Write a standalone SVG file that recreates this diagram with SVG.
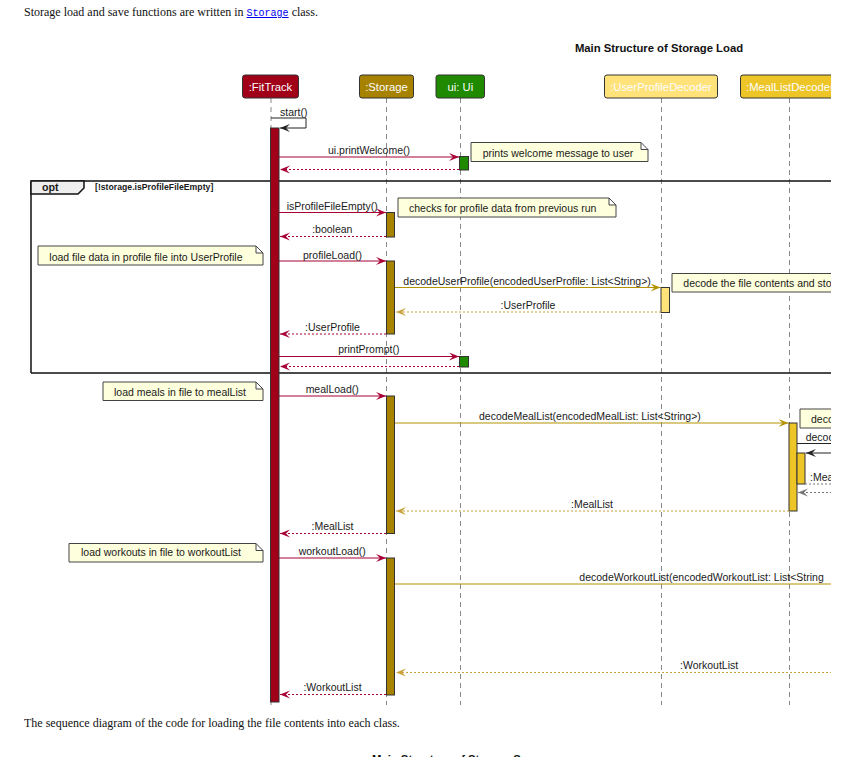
<svg xmlns="http://www.w3.org/2000/svg" width="863" height="757" viewBox="0 0 863 757">
<style>
.serif{font-family:"Liberation Serif","Times New Roman",serif;font-size:12px;fill:#111}
.link{font-family:"Liberation Mono","Courier New",monospace;font-size:10px;fill:#0000EE;text-decoration:underline}
.title{font-family:"Liberation Sans",Arial,sans-serif;font-size:11.3px;font-weight:bold;fill:#111}
.pt{font-family:"Liberation Sans",Arial,sans-serif;font-size:11.3px;fill:#FDFDFD;text-anchor:middle}
.m{font-family:"Liberation Sans",Arial,sans-serif;font-size:10.5px;fill:#1a1a1a}
.mc{font-family:"Liberation Sans",Arial,sans-serif;font-size:10.5px;fill:#1a1a1a;text-anchor:middle}
.life{stroke:#8a8a8a;stroke-width:1;stroke-dasharray:5,4;fill:none}
.box{stroke:#333;stroke-width:1}
.act{stroke:#333;stroke-width:1}
.note{fill:#FEFFDD;stroke:#444;stroke-width:1}
.red{stroke:#A80036;stroke-width:1;fill:none}
.redd{stroke:#A80036;stroke-width:1;fill:none;stroke-dasharray:2,2}
.gold{stroke:#B39200;stroke-width:1;fill:none}
.goldd{stroke:#C8A23A;stroke-width:1;fill:none;stroke-dasharray:2,2}
.blk{stroke:#222;stroke-width:1;fill:none}
.gray{stroke:#777;stroke-width:1;fill:none;stroke-dasharray:2,2}
.frame{stroke:#111;stroke-width:1.5;fill:none}
</style>
<defs>
<marker id="aRed" markerWidth="12" markerHeight="10" refX="10" refY="4" orient="auto" markerUnits="userSpaceOnUse"><path d="M0,0 L10,4 L0,8 L4,4 Z" fill="#A80036"/></marker>
<marker id="aGold" markerWidth="12" markerHeight="10" refX="10" refY="4" orient="auto" markerUnits="userSpaceOnUse"><path d="M0,0 L10,4 L0,8 L4,4 Z" fill="#B39200"/></marker>
<marker id="aGoldL" markerWidth="12" markerHeight="10" refX="10" refY="4" orient="auto" markerUnits="userSpaceOnUse"><path d="M0,0 L10,4 L0,8 L4,4 Z" fill="#C8A23A"/></marker>
<marker id="aBlk" markerWidth="12" markerHeight="10" refX="10" refY="4" orient="auto" markerUnits="userSpaceOnUse"><path d="M0,0 L10,4 L0,8 L4,4 Z" fill="#222"/></marker>
<marker id="aGray" markerWidth="12" markerHeight="10" refX="10" refY="4" orient="auto" markerUnits="userSpaceOnUse"><path d="M0,0 L10,4 L0,8 L4,4 Z" fill="#777"/></marker>
<clipPath id="clip"><rect x="0" y="60" width="831" height="660"/></clipPath>
</defs>

<text x="24" y="16" class="serif">Storage load and save functions are written in <tspan class="link">Storage</tspan> class.</text>
<text x="659" y="52" class="title" text-anchor="middle">Main Structure of Storage Load</text>

<g clip-path="url(#clip)">
<g id="lifelines">
<line class="life" x1="271" y1="98" x2="271" y2="705"/>
<line class="life" x1="386.5" y1="98" x2="386.5" y2="705"/>
<line class="life" x1="460.5" y1="98" x2="460.5" y2="705"/>
<line class="life" x1="661.5" y1="98" x2="661.5" y2="705"/>
<line class="life" x1="789.5" y1="98" x2="789.5" y2="705"/>
</g>

<g id="opt-frame">
<path class="frame" d="M31,181 L840,181 M31,373 L840,373 M31,181 L31,373"/>
<path d="M31,181 L84,181 L84,188 L78,194 L31,194 Z" fill="#EEEEEE" stroke="#111" stroke-width="1.5"/>
<text x="42" y="191" class="m" style="font-weight:bold;font-size:10.7px">opt</text>
<text x="95" y="190" class="m" style="font-weight:bold;font-size:8.7px">[!storage.isProfileFileEmpty]</text>
</g>

<g id="p-fittrack"><rect class="box" x="242.5" y="75" width="56" height="23" rx="2.5" fill="#A00018"/><text x="270.5" y="91" class="pt">:FitTrack</text></g>
<g id="p-storage"><rect class="box" x="359.5" y="75" width="54" height="23" rx="2.5" fill="#A68200"/><text x="386.5" y="91" class="pt">:Storage</text></g>
<g id="p-ui"><rect class="box" x="436" y="75" width="48.5" height="23" rx="2.5" fill="#1F8A00"/><text x="460.3" y="91" class="pt">ui: Ui</text></g>
<g id="p-userprofiledecoder"><rect class="box" x="604.5" y="75" width="113" height="23" rx="2.5" fill="#FFE27A"/><text x="661" y="91" class="pt">:UserProfileDecoder</text></g>
<g id="p-meallistdecoder"><rect class="box" x="740.5" y="75" width="100" height="23" rx="2.5" fill="#EDC526"/><text x="746" y="91" class="pt" style="text-anchor:start">:MealListDecoder</text></g>

<g id="activations">
<rect class="act" x="270.5" y="128" width="8.5" height="574" fill="#A00018"/>
<rect class="act" x="459.5" y="156.5" width="9" height="13.5" fill="#1F8A00"/>
<rect class="act" x="386.5" y="212.5" width="8" height="24.5" fill="#A68200"/>
<rect class="act" x="386.5" y="261" width="8" height="73" fill="#A68200"/>
<rect class="act" x="661" y="287.5" width="8.5" height="25" fill="#FFE27A"/>
<rect class="act" x="459.5" y="356.5" width="9" height="10.5" fill="#1F8A00"/>
<rect class="act" x="386.5" y="396" width="8" height="137.5" fill="#A68200"/>
<rect class="act" x="789" y="423" width="8" height="88" fill="#EDC526"/>
<rect class="act" x="797" y="453" width="8" height="31" fill="#EDC526"/>
<rect class="act" x="386.5" y="558" width="8" height="137" fill="#A68200"/>
</g>

<g id="connectors">
<path class="blk" d="M271,118 L306,118 L306,128 L280,128" marker-end="url(#aBlk)"/>
<line class="red" x1="279" y1="157" x2="459" y2="157" marker-end="url(#aRed)"/>
<line class="redd" x1="459" y1="169.5" x2="280" y2="169.5" marker-end="url(#aRed)"/>
<line class="red" x1="279" y1="212.5" x2="386" y2="212.5" marker-end="url(#aRed)"/>
<line class="redd" x1="386" y1="236.5" x2="280" y2="236.5" marker-end="url(#aRed)"/>
<line class="red" x1="279" y1="261" x2="386" y2="261" marker-end="url(#aRed)"/>
<line class="gold" x1="395" y1="287.5" x2="660.5" y2="287.5" marker-end="url(#aGold)"/>
<line class="goldd" x1="661" y1="312" x2="396" y2="312" marker-end="url(#aGoldL)"/>
<line class="redd" x1="386" y1="334" x2="280" y2="334" marker-end="url(#aRed)"/>
<line class="red" x1="279" y1="356.5" x2="459" y2="356.5" marker-end="url(#aRed)"/>
<line class="redd" x1="459" y1="366.5" x2="280" y2="366.5" marker-end="url(#aRed)"/>
<line class="red" x1="279" y1="396" x2="386" y2="396" marker-end="url(#aRed)"/>
<line class="gold" x1="395" y1="423" x2="788.5" y2="423" marker-end="url(#aGold)"/>
<line class="blk" x1="797" y1="443.5" x2="840" y2="443.5"/>
<line class="blk" x1="840" y1="453" x2="806" y2="453" marker-end="url(#aBlk)"/>
<line class="gray" x1="805" y1="484" x2="840" y2="484"/>
<line class="gray" x1="840" y1="492.5" x2="798" y2="492.5" marker-end="url(#aGray)"/>
<line class="goldd" x1="789" y1="511" x2="396" y2="511" marker-end="url(#aGoldL)"/>
<line class="redd" x1="386" y1="533.5" x2="280" y2="533.5" marker-end="url(#aRed)"/>
<line class="red" x1="279" y1="558" x2="386" y2="558" marker-end="url(#aRed)"/>
<line class="gold" x1="395" y1="584" x2="840" y2="584"/>
<line class="goldd" x1="840" y1="672.5" x2="396" y2="672.5" marker-end="url(#aGoldL)"/>
<line class="redd" x1="386" y1="694.5" x2="280" y2="694.5" marker-end="url(#aRed)"/>
</g>

<g id="labels">
<text x="280" y="116" class="m">start()</text>
<text x="369" y="153.5" class="mc">ui.printWelcome()</text>
<text x="286.7" y="209.5" class="m">isProfileFileEmpty()</text>
<text x="332.3" y="233" class="mc">:boolean</text>
<text x="332.5" y="258.5" class="mc">profileLoad()</text>
<text x="403.3" y="284.5" class="m">decodeUserProfile(encodedUserProfile: List&lt;String&gt;)</text>
<text x="528" y="309" class="mc">:UserProfile</text>
<text x="332.5" y="331" class="mc">:UserProfile</text>
<text x="368.8" y="353" class="mc">printPrompt()</text>
<text x="332.2" y="393" class="mc">mealLoad()</text>
<text x="479" y="420" class="m">decodeMealList(encodedMealList: List&lt;String&gt;)</text>
<text x="805.7" y="440.5" class="m">decod</text>
<text x="810" y="480.5" class="m">:Mea</text>
<text x="592" y="508" class="mc">:MealList</text>
<text x="332.5" y="529.7" class="mc">:MealList</text>
<text x="332.2" y="554.7" class="mc">workoutLoad()</text>
<text x="579.3" y="581" class="m">decodeWorkoutList(encodedWorkoutList: List&lt;String</text>
<text x="680" y="669.3" class="m">:WorkoutList</text>
<text x="332.5" y="691" class="mc">:WorkoutList</text>
</g>

<g id="note-welcome"><path class="note" d="M471,142.5 L641,142.5 L648,149.5 L648,161.5 L471,161.5 Z M641,142.5 L641,149.5 L648,149.5"/><text x="482.7" y="156.5" class="m">prints welcome message to user</text></g>
<g id="note-checks"><path class="note" d="M398,198 L609,198 L616,205 L616,217 L398,217 Z M609,198 L609,205 L616,205"/><text x="409" y="211.5" class="m">checks for profile data from previous run</text></g>
<g id="note-profile"><path class="note" d="M38,246 L256,246 L263,253 L263,265 L38,265 Z M256,246 L256,253 L263,253"/><text x="49.3" y="260.5" class="m">load file data in profile file into UserProfile</text></g>
<g id="note-decode-profile"><path class="note" d="M672,273.5 L900,273.5 L900,292 L672,292 Z"/><text x="683.3" y="286.5" class="m">decode the file contents and sto</text></g>
<g id="note-meals"><path class="note" d="M103,382 L256,382 L263,389 L263,400.5 L103,400.5 Z M256,382 L256,389 L263,389"/><text x="114" y="395.5" class="m">load meals in file to mealList</text></g>
<g id="note-decode-meals"><path class="note" d="M800,409 L900,409 L900,428 L800,428 Z"/><text x="811" y="422.7" class="m">deco</text></g>
<g id="note-workouts"><path class="note" d="M69,543.5 L256,543.5 L263,550.5 L263,562 L69,562 Z M256,543.5 L256,550.5 L263,550.5"/><text x="81" y="556" class="m">load workouts in file to workoutList</text></g>
</g>

<text x="24" y="727" class="serif">The sequence diagram of the code for loading the file contents into each class.</text>
<text x="372" y="763" class="title">Main Structure of Storage Save</text>
</svg>
